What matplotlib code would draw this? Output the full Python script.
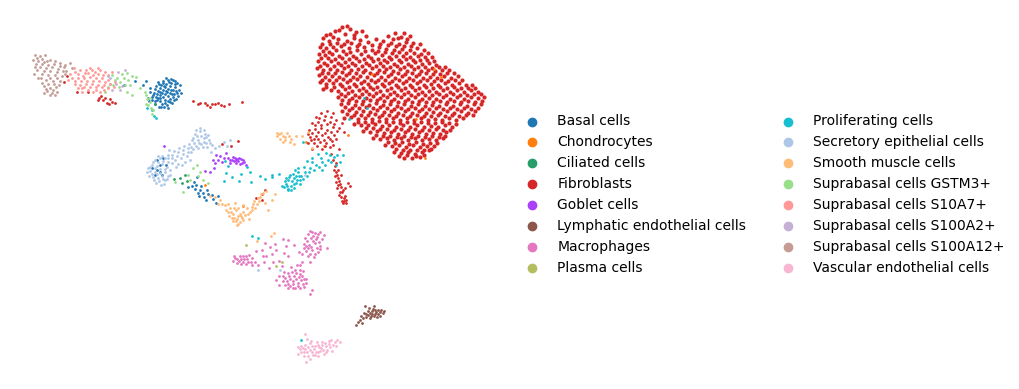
import matplotlib
matplotlib.use("Agg")
import matplotlib.pyplot as plt

# cell types in legend order
cell_types = ["Basal cells", "Chondrocytes", "Ciliated cells", "Fibroblasts", "Goblet cells",
              "Lymphatic endothelial cells", "Macrophages", "Plasma cells", "Proliferating cells",
              "Secretory epithelial cells", "Smooth muscle cells", "Suprabasal cells GSTM3+",
              "Suprabasal cells S10A7+", "Suprabasal cells S100A2+", "Suprabasal cells S100A12+",
              "Vascular endothelial cells"]
colors = ["#1f77b4", "#ff7f0e", "#279e68", "#d62728", "#aa40fc", "#8c564b", "#e377c2", "#b5bd61",
          "#17becf", "#aec7e8", "#ffbb78", "#98df8a", "#ff9896", "#c5b0d5", "#c49c94", "#f7b6d2"]

# embedding positions, a sample of each cluster
basal = [(152,100),(156,97),(160,95),(165,94),(170,93),(174,94),(178,96),(150,92),(155,89),(160,88),(165,87),(170,86),
         (175,87),(179,90),(158,82),(163,81),(168,80),(173,80),(177,83),(165,100),(170,99),(162,104),(167,105),(172,103),
         (155,104),(159,107),(163,83),(171,90),(160,92),(166,91),(176,91),(153,95),(148,98),(181,93),(143,85),(135,81),
         (146,81),(124,85),(168,108),(157,100),(197,177),(192,186),(200,190),(207,190),(212,195),(198,193),(204,197),(194,182),
         (157,160),(160,172),(155,175),(166,165),(188,187),(218,196),(216,203),(163,158),
         (154,93),(158,91),(163,90),(168,89),(173,90),(177,93),(156,86),(161,85),(166,84),(171,83),(175,84),(158,98),(163,97),
         (168,96),(173,97),(176,99),(160,101),(165,103),(170,102),(157,94),(162,93),(167,92),(172,94),(152,97),(149,101),(164,107),
         (171,79),(166,78),(175,81),(160,98),(155,101),(161,107),(180,85),(150,88),(168,101),(174,100),(159,84),(164,86),(169,82),
         (203,193),(208,194),(195,189),(201,186),(196,185),(213,199),(206,200),(199,196),(162,175),(152,168),(160,165),(157,170)]
chondrocytes = [(205,185),(348,135),(372,74),(441,77),(434,69),(425,158),(416,119),(324,146),(306,142),(243,206)]
ciliated = [(180,178),(182,183),(185,175),(187,181),(174,179),(155,104)]
# dense main mass of the fibroblasts
fibroblasts = [(342,27),(335,31),(350,29),(330,34),(345,34),(356,32),(362,31),(395,33),(404,33),(388,36),(410,36),(398,38),
               (323,38),(329,41),(338,39),(347,41),(354,38),(360,40),(376,39),(383,41),(391,43),(399,44),(406,42),(413,43),
               (320,47),(326,48),(333,47),(341,46),(349,48),(357,46),(364,47),(372,45),(379,47),(386,49),(394,50),(402,49),
               (410,50),(417,48),(424,50),(319,54),(325,55),(332,54),(339,56),(346,54),(353,56),(361,54),(368,56),(375,53),
               (382,55),(389,57),(396,56),(403,56),(410,57),(418,56),(425,57),(432,57),(318,61),(324,63),(331,61),(338,63),
               (345,62),(352,63),(359,61),(366,63),(373,61),(380,63),(387,62),(394,64),(401,62),(408,64),(415,62),(422,64),
               (429,63),(436,65),(317,68),(323,70),(330,69),(337,70),(344,68),(351,70),(358,69),(365,70),(372,68),(379,70),
               (386,69),(393,71),(400,69),(407,71),(414,69),(421,71),(428,70),(435,71),(442,70),(449,70),(319,75),(325,77),
               (332,76),(339,77),(346,75),(353,77),(360,76),(367,77),(374,75),(381,77),(388,76),(395,78),(402,76),(409,78),
               (416,76),(423,78),(430,77),(437,78),(444,76),(451,78),(458,76),(320,82),(326,84),(333,83),(340,84),(347,82),
               (354,84),(361,83),(368,84),(375,82),(382,84),(389,83),(396,85),(403,83),(410,85),(417,83),(424,85),(431,84),
               (438,85),(445,83),(452,85),(459,83),(466,85),(472,85),(323,89),(331,90),(338,91),(345,89),(352,91),(359,90),
               (366,91),(373,89),(380,91),(387,90),(394,92),(401,90),(408,92),(415,90),(422,92),(429,91),(436,92),(443,90),
               (450,92),(457,90),(464,92),(471,90),(478,92),(338,97),(345,96),(352,98),(359,97),(366,98),(373,96),(380,98),
               (387,97),(394,99),(401,97),(408,99),(415,97),(422,99),(429,98),(436,99),(443,97),(450,99),(457,97),(464,99),
               (471,97),(478,98),(484,97),(341,104),(348,103),(355,105),(362,104),(369,105),(376,103),(383,105),(390,104),
               (397,106),(404,104),(411,106),(418,104),(425,106),(432,105),(439,106),(446,104),(453,106),(460,104),(467,106),
               (474,104),(481,104),(342,111),(349,110),(356,112),(363,111),(370,112),(377,110),(384,112),(391,111),(398,113),
               (405,111),(412,113),(419,111),(426,113),(433,112),(440,113),(447,111),(454,113),(461,111),(468,113),(475,111),
               (344,118),(351,117),(358,119),(365,118),(372,119),(379,117),(386,119),(393,118),(400,120),(407,118),(414,120),
               (421,118),(428,120),(435,119),(442,120),(449,118),(456,120),(463,118),(354,124),(361,125),(368,125),(375,124),
               (382,126),(389,125),(396,127),(403,125),(410,127),(417,125),(424,127),(431,126),(438,127),(445,125),(452,127),
               (363,131),(370,132),(377,131),(384,133),(391,132),(398,134),(405,132),(412,134),(419,132),(426,134),(433,133),
               (440,134),(446,132),(373,138),(380,139),(387,138),(394,140),(401,138),(408,140),(415,138),(422,140),(429,139),
               (436,140),(443,138),(385,145),(392,146),(399,145),(406,147),(413,145),(420,147),(427,146),(434,146),(394,152),
               (401,153),(408,152),(415,154),(422,152),(429,150),(404,158),(412,158),(420,157),
               (339,30),(347,26),(354,35),(333,37),(326,35),(401,37),(393,39),(407,39),(366,36),(380,44),
               (322,44),(330,44),(337,43),(344,44),(351,43),(359,44),(368,42),(388,45),(396,46),(404,46),(411,46),(420,44),
               (323,51),(329,52),(336,50),(343,51),(350,52),(357,50),(365,51),(372,50),(378,51),(385,52),(392,53),(399,52),
               (406,53),(414,53),(421,54),(428,53),(321,58),(328,58),(335,59),(342,58),(349,59),(356,58),(364,59),(371,58),
               (378,59),(384,60),(391,59),(399,60),(406,59),(413,60),(420,60),(427,60),(434,61),(320,66),(327,65),(334,66),
               (341,65),(348,66),(355,65),(362,66),(369,65),(376,66),(383,66),(390,67),(397,66),(404,67),(411,66),(418,67),
               (425,67),(432,68),(439,67),(445,67),(322,73),(328,73),(335,73),(342,72),(349,73),(356,73),(363,72),(370,73),
               (377,73),(384,72),(391,74),(398,73),(405,74),(412,73),(419,74),(426,73),(433,74),(440,74),(447,73),(454,73),
               (322,80),(329,80),(336,80),(343,79),(350,80),(357,79),(364,81),(371,80),(378,80),(385,80),(392,81),(399,80),
               (406,81),(413,80),(420,81),(427,80),(434,81),(441,80),(448,81),(455,80),(462,80),(326,87),(334,87),(342,86),
               (349,87),(356,86),(363,88),(370,87),(377,87),(384,86),(391,88),(398,87),(405,88),(412,87),(419,88),(426,87),
               (433,88),(440,87),(447,88),(454,87),(461,88),(468,88),(475,88),(341,94),(348,93),(355,95),(362,94),(369,94),
               (376,93),(383,95),(390,94),(397,95),(404,94),(411,95),(418,94),(425,95),(432,95),(439,94),(446,95),(453,94),
               (460,95),(467,95),(474,94),(481,94),(342,100),(349,100),(356,101),(363,101),(370,100),(377,100),(384,101),
               (391,101),(398,102),(405,101),(412,102),(419,101),(426,102),(433,102),(440,101),(447,102),(454,101),(461,102),
               (468,101),(475,102),(482,101),(345,107),(352,108),(359,108),(366,107),(373,108),(380,107),(387,108),(394,109),
               (401,108),(408,109),(415,108),(422,109),(429,109),(436,108),(443,109),(450,108),(457,109),(464,108),(471,109),
               (478,108),(347,114),(354,115),(361,115),(368,115),(375,114),(382,115),(389,115),(396,116),(403,115),(410,116),
               (417,115),(424,116),(431,116),(438,115),(445,116),(452,115),(459,116),(466,115),(473,115),(358,122),(365,122),
               (372,122),(379,121),(386,122),(393,122),(400,123),(407,122),(414,123),(421,122),(428,123),(435,123),(442,122),
               (449,123),(456,124),(366,128),(373,128),(380,129),(387,129),(394,130),(401,129),(408,130),(415,129),(422,130),
               (429,130),(436,129),(443,130),(450,130),(376,135),(383,136),(390,136),(397,137),(404,136),(411,137),(418,136),
               (425,137),(432,136),(439,137),(445,136),(388,142),(395,143),(402,142),(409,144),(416,142),(423,144),(430,143),
               (437,143),(396,149),(403,150),(410,150),(417,150),(424,150),(431,149),(399,156),(407,155),(416,156),(424,155)]
# thinner parts of the fibroblasts, drawn with the small dots
fibroblasts_thin = [(316,117),(321,113),(327,111),(333,113),(312,123),(318,122),(324,120),(330,122),(336,120),(342,123),(309,130),
                    (315,129),(321,128),(327,130),(333,127),(339,128),(310,137),(316,136),(322,135),(328,137),(334,135),(344,132),
                    (308,143),(314,143),(320,142),(326,143),(332,141),(312,149),(322,149),(330,147),(339,149),
                    (319,118),(325,116),(331,117),(315,125),(321,125),(327,124),(334,124),(312,133),(318,132),(325,133),(331,132),
                    (337,131),(311,140),(318,139),(324,140),(330,139),(336,139),(317,146),(325,146),(333,145),(308,134),(314,139),
                    (336,172),(338,178),(335,166),(340,184),(337,188),(342,192),(344,198),(339,195),(342,201),(346,200),(333,160),
                    (331,154),(348,183),(350,186),(345,188),(336,182),(341,175),(334,170),(337,175),(339,181),(341,187),(343,190),
                    (340,192),(345,196),(341,197),(343,203),(346,203),(338,185),(335,176),(338,170),(344,201),(336,163),
                    (193,101),(198,104),(205,103),(212,104),(218,103),(224,106),(229,104),(242,102),(210,107),(103,100),(107,103),
                    (99,98),(112,102),(238,141),(222,144),(231,146),(262,194),(262,200),(256,198),(265,190),(200,103),(207,105),
                    (215,104),(221,105),(101,96),(105,98),(110,99),(98,100),(109,104),(115,103),(88,92),(77,92),(67,76),(64,82)]
goblet = [(232,160),(235,158),(238,161),(241,159),(244,162),(236,163),(240,164),(230,163),(246,165),(228,158),(213,160),
          (220,156),(226,153),(222,162),(216,155),(210,172),(205,171),(234,161),(237,159),(233,157),(242,163),(239,158),
          (230,160),(236,160),(243,160),(224,158),(218,160),(215,163),(164,146),(214,168)]
lymphatic = [(366,317),(370,313),(375,314),(380,312),(368,311),(373,309),(377,317),(371,316),(364,313),(383,313),(360,320),
             (356,325),(362,323),(365,306),(374,306),(369,308),(378,310),(358,322),(372,311),(376,312),(370,318),(366,314),
             (380,316),(374,316),(368,315),(363,318),(384,311),(378,314),(372,314),(375,310),(381,310),(361,316)]
macrophages = [(310,231),(315,233),(320,232),(305,238),(311,238),(317,237),(322,239),(304,244),(309,245),(315,243),(320,246),
               (306,251),(312,250),(318,252),(308,256),(314,257),(302,262),(310,262),(303,271),(300,265),
               (284,272),(289,276),(294,276),(299,277),(304,279),(287,281),(293,281),(298,283),(303,284),(306,279),(290,286),
               (295,288),(300,288),(285,285),(279,285),(295,270),(297,265),(310,294),(312,290),
               (235,258),(239,261),(243,262),(247,259),(240,256),(246,264),(251,262),(237,263),(233,261),(249,255),(252,258),
               (256,251),(262,250),(270,247),(275,244),(265,243),(286,246),(288,256),(264,262),(273,262),(282,266),(279,261),
               (308,234),(313,236),(318,234),(307,241),(313,241),(319,242),(324,235),(311,247),(317,248),(308,248),(304,248),
               (310,254),(315,254),(306,246),(312,232),(316,239),(302,254),(299,252),(320,249),(327,248),
               (288,273),(292,272),(296,273),(300,274),(302,276),(285,278),(290,279),(296,279),(301,280),(306,283),(283,281),
               (288,284),(293,284),(298,286),(304,287),(293,288),(288,288),(283,276),(276,280),(279,276),(300,270),(291,267),
               (241,259),(244,259),(237,259),(243,256),(248,262),(252,265),(241,264),(234,256),(246,256),(255,262),(263,256),
               (258,265),(269,268),(266,256),(272,254),(276,250),(284,253),(283,239),(288,240),(294,245)]
plasma = [(246,245),(276,266),(282,262)]
proliferating = [(290,175),(294,178),(298,172),(286,184),(291,186),(296,183),(300,180),(288,189),(294,188),(285,181),(301,176),
                 (305,172),(298,168),(310,168),(316,165),(322,162),(328,160),(312,158),(318,154),(326,153),(334,157),(340,162),
                 (343,155),(282,186),(272,177),(279,174),(288,190),(295,170),(265,179),(260,176),(250,172),(247,167),(226,173),
                 (224,181),(239,181),(232,177),(322,170),(336,165),(152,110),(147,108),(156,118),(154,116),(349,119),(367,108),
                 (252,236),(258,238),(303,142),(301,340),(364,98),
                 (288,180),(292,181),(296,176),(300,184),(291,190),(284,187),(287,186),(294,184),(297,180),(303,179),(289,177),
                 (293,174),(299,176),(286,178),(307,176),(304,167),(309,172),(314,170),(319,167),(325,165),(331,162),(312,162),
                 (307,161),(330,155),(321,158),(337,155),(225,161),(228,166),(241,174),(272,175),(251,182)]
secretory = [(155,160),(160,158),(165,158),(152,165),(157,166),(162,164),(167,167),(150,171),(155,172),(160,173),(165,172),
             (153,177),(158,178),(163,179),(168,176),(156,183),(161,185),(165,180),(172,155),(178,152),(183,150),(175,160),
             (181,158),(187,156),(169,150),(191,152),(196,146),(201,144),(206,143),(195,134),(200,131),(205,134),(192,140),
             (198,140),(204,138),(209,140),(212,145),(191,147),(215,148),(224,142),(230,140),(182,165),(176,167),(211,152),
             (305,175),(148,168),(258,270),(280,270),
             (153,162),(158,162),(163,161),(168,162),(172,163),(150,167),(155,168),(160,169),(165,169),(170,170),(152,174),
             (157,174),(162,176),(167,179),(159,181),(164,184),(154,180),(172,158),(177,156),(183,154),(188,152),(193,149),
             (198,148),(203,147),(207,147),(168,155),(174,151),(179,148),(184,146),(189,144),(194,143),(199,143),(204,142),
             (197,136),(201,136),(206,137),(196,130),(200,128),(204,130),(208,135),(210,143),(188,148),(193,138),(185,162),
             (190,160),(178,164),(170,175),(147,172),(149,176),(162,156),(168,158),(219,146),(227,146),(158,156)]
smooth_muscle = [(225,205),(230,208),(235,203),(220,200),(215,197),(210,196),(228,212),(233,214),(238,216),(243,212),(236,221),
                 (240,222),(234,218),(242,218),(247,208),(253,204),(258,198),(261,194),(255,208),(250,212),(266,191),(279,134),
                 (283,136),(287,133),(291,139),(285,140),(280,139),(294,144),(296,136),(302,136),(275,194),(272,200),(249,219),
                 (237,225),(268,210),(265,203),(308,132),(312,148),(257,241),(271,236),(274,233),
                 (222,204),(226,210),(231,212),(236,210),(240,214),(245,215),(232,218),(237,219),(241,216),(233,221),(238,224),
                 (243,220),(229,216),(248,214),(252,210),(254,201),(257,204),(259,201),(252,207),(260,197),(263,193),(277,136),
                 (281,133),(285,137),(289,136),(277,133),(283,142),(290,142),(243,205),(238,208),(234,208),(228,204),(218,204)]
gstm3 = [(112,75),(117,78),(122,74),(127,73),(132,76),(128,80),(120,82),(113,85),(130,85),(127,92),(132,95),(145,92),(150,102),
         (148,105),(153,110),(152,114),(147,99),(140,88),(146,95),(105,92),(197,165),(183,192),(193,168),(200,172),(208,183),(190,180),
         (115,80),(110,84),(119,87),(124,78),(136,77),(125,85),(108,87),(151,108),(149,98),(146,104),(203,180),(198,176),(175,182),(188,175)]
s10a7 = [(75,72),(80,70),(85,73),(90,68),(95,72),(100,70),(105,72),(72,78),(78,78),(84,78),(90,77),(96,78),(102,78),(108,80),
         (80,85),(86,84),(92,84),(98,85),(104,85),(110,84),(115,82),(75,84),(88,90),(96,90),(104,90),(70,74),(68,80),(82,88),(112,72),
         (78,74),(83,76),(88,73),(93,75),(98,74),(103,75),(108,75),(75,81),(81,81),(87,81),(93,81),(99,81),(105,82),(84,87),(90,87),
         (96,87),(102,87),(108,88),(114,87),(78,88),(92,70),(98,68),(86,70),(74,68),(100,92),(93,92),(82,92)]
s100a2 = [(110,78),(116,84),(122,86),(118,72),(125,70),(112,90),(108,76),(120,90)]
s100a12 = [(35,55),(40,56),(33,60),(38,61),(44,62),(50,60),(55,61),(60,63),(64,67),(70,63),(40,67),(46,68),(52,67),(58,69),(66,71),
           (34,74),(42,74),(48,75),(55,75),(62,76),(38,78),(46,80),(53,81),(60,81),(44,86),(50,88),(56,87),(47,91),(52,93),(57,92),
           (42,83),(65,74),(37,58),(42,59),(47,61),(36,64),(42,64),(48,65),(54,64),(60,66),(37,70),(44,71),(50,71),(57,72),(63,71),
           (41,78),(50,78),(57,78),(48,84),(54,84),(59,85),(46,89),(53,90),(50,95),(55,95),(44,93),(65,65),(72,68),(35,67),(45,55)]
vascular = [(298,347),(301,352),(304,356),(308,347),(310,343),(314,349),(318,345),(322,342),(326,346),(329,341),(333,345),(337,340),
            (320,351),(324,354),(315,355),(310,359),(305,349),(327,350),(332,351),(298,354),(306,362),(312,352),(319,347),(307,339),
            (305,334),(336,346),(301,346),(318,356),
            (305,345),(310,350),(316,352),(321,348),(325,343),(330,347),(322,345),(317,342),(312,346),(307,352),(303,348),(313,355),
            (318,352),(308,356),(304,352),(326,352),(335,342),(331,340),(340,342),(315,346),(323,350),(329,344),(300,349),(311,341)]

clusters = [basal, chondrocytes, ciliated, fibroblasts_thin, goblet, lymphatic, macrophages, plasma, proliferating, secretory,
            smooth_muscle, gstm3, s10a7, s100a2, s100a12, vascular]

fig = plt.figure(figsize=(10.2, 3.89), dpi=100)
ax = fig.add_axes([21 / 1020, 1 - 370 / 389, 485 / 1020, 351 / 389])

ax.scatter([p[0] for p in fibroblasts], [p[1] for p in fibroblasts], s=9, c=colors[3], linewidths=0, zorder=1)
for name, color, pts in zip(cell_types, colors, clusters):
    x = [p[0] for p in pts]
    y = [p[1] for p in pts]
    ax.scatter(x, y, s=4, c=color, linewidths=0, zorder=2)
    # empty scatter so the legend gets full size dots
    ax.scatter([], [], c=color, label=name)

ax.set_xlim(21, 506)
ax.set_ylim(370, 19)
ax.set_xticks([])
ax.set_yticks([])
for s in ax.spines.values():
    s.set_visible(False)
ax.legend(loc="center left", bbox_to_anchor=(1, 0.5), ncol=2, frameon=False, fontsize=10)

fig.savefig("out.png", dpi=100)
